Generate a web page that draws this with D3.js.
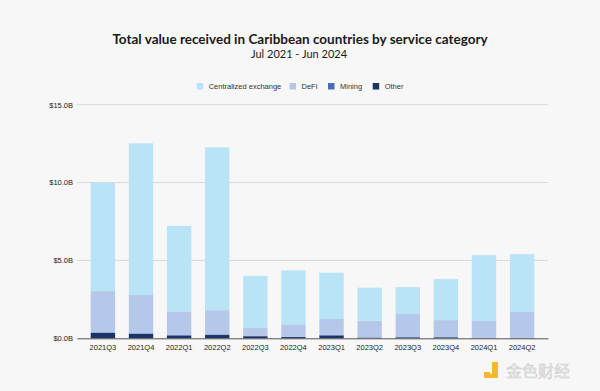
<!DOCTYPE html>
<html>
<head>
<meta charset="utf-8">
<script src="https://cdn.jsdelivr.net/npm/d3@7"></script>
<style>
  body { margin: 0; background: #f7f7f7; }
  .title { font-family: Lato, "Open Sans", sans-serif; font-weight: bold; font-size: 13.5px; fill: #1a1a1a; }
  .subtitle { font-family: Lato, "Open Sans", sans-serif; font-size: 11px; fill: #1a1a1a; }
  .legendText { font-family: "Liberation Sans", Arial, sans-serif; font-size: 7.5px; fill: #333; }
  .tick text { font-family: "Liberation Sans", Arial, sans-serif; font-size: 7.5px; fill: #222; }
</style>
</head>
<body>
<div class="chart"></div>
<script>
// Caribbean value received, stacked by service category

var quarters = ["2021Q3", "2021Q4", "2022Q1", "2022Q2", "2022Q3", "2022Q4",
    "2023Q1", "2023Q2", "2023Q3", "2023Q4", "2024Q1", "2024Q2"];

// values in billions of USD
var other = [0.34, 0.28, 0.18, 0.21, 0.13, 0.08, 0.18, 0.04, 0.06, 0.06, 0.01, 0.01];
var mining = [0.04, 0.04, 0.03, 0.04, 0.02, 0.02, 0.03, 0.02, 0.02, 0.02, 0.01, 0.01];
var defi = [2.65, 2.46, 1.52, 1.56, 0.51, 0.80, 1.03, 1.07, 1.48, 1.09, 1.09, 1.67];
var cex = [6.97, 9.74, 5.49, 10.45, 3.35, 3.46, 2.97, 2.12, 1.73, 2.63, 4.23, 3.71];

var seriesNames = ["Centralized exchange", "DeFi", "Mining", "Other"];
var seriesColors = ["#b9e4f6", "#b6c8ea", "#4a6db3", "#1b3467"];
var yTicks = [0, 5, 10, 15];

var svgWidth = 600;
var svgHeight = 391;
var margin = { top: 104.7, right: 52, bottom: 52.7, left: 77 };
var width = svgWidth - margin.left - margin.right;
var height = svgHeight - margin.top - margin.bottom;

var svg = d3.select(".chart")
    .append("svg")
    .attr("width", svgWidth)
    .attr("height", svgHeight)
    .style("background", "#f7f7f7");

svg.append("text")
    .attr("class", "title")
    .attr("x", 300)
    .attr("y", 43.5)
    .attr("text-anchor", "middle")
    .text("Total value received in Caribbean countries by service category");

svg.append("text")
    .attr("class", "subtitle")
    .attr("x", 299)
    .attr("y", 58)
    .attr("text-anchor", "middle")
    .text("Jul 2021 - Jun 2024");

// legend
var legendX = [196.7, 289.5, 328, 372.7];
var legend = svg.append("g");
seriesNames.forEach(function(name, i) {
    legend.append("rect")
        .attr("x", legendX[i])
        .attr("y", 83)
        .attr("width", 6.5)
        .attr("height", 6.5)
        .attr("fill", seriesColors[i]);
    legend.append("text")
        .attr("class", "legendText")
        .attr("x", legendX[i] + 12)
        .attr("y", 89)
        .text(name);
});

var chart = svg.append("g")
    .attr("transform", "translate(" + margin.left + "," + margin.top + ")");

var data = quarters.map(function(q, i) {
    return { quarter: q, "Other": other[i], "Mining": mining[i], "DeFi": defi[i], "Centralized exchange": cex[i] };
});

var xBandScale = d3.scaleBand()
    .domain(quarters)
    .range([0, width])
    .paddingInner(0.36)
    .paddingOuter(0.36);

var yLinearScale = d3.scaleLinear()
    .domain([0, 15])
    .range([height, 0]);

// gridlines
chart.append("g")
    .selectAll("line")
    .data(yTicks.slice(1))
    .enter()
    .append("line")
    .attr("x1", 0)
    .attr("x2", width)
    .attr("y1", function(d) { return yLinearScale(d); })
    .attr("y2", function(d) { return yLinearScale(d); })
    .attr("stroke", "#d9d9d9")
    .attr("stroke-width", 1);

var stack = d3.stack().keys(["Other", "Mining", "DeFi", "Centralized exchange"]);
var colorFor = { "Other": seriesColors[3], "Mining": seriesColors[2], "DeFi": seriesColors[1], "Centralized exchange": seriesColors[0] };

chart.selectAll(".layer")
    .data(stack(data))
    .enter()
    .append("g")
    .attr("class", "layer")
    .attr("fill", function(d) { return colorFor[d.key]; })
    .selectAll("rect")
    .data(function(d) { return d; })
    .enter()
    .append("rect")
    .attr("x", function(d) { return xBandScale(d.data.quarter); })
    .attr("y", function(d) { return yLinearScale(d[1]); })
    .attr("width", xBandScale.bandwidth())
    .attr("height", function(d) { return yLinearScale(d[0]) - yLinearScale(d[1]); });

// axes
var leftAxis = d3.axisLeft(yLinearScale)
    .tickValues(yTicks)
    .tickSize(0)
    .tickPadding(4)
    .tickFormat(function(d) { return "$" + d.toFixed(1) + "B"; });

chart.append("g")
    .call(leftAxis)
    .call(function(g) { g.select(".domain").remove(); });

var bottomAxis = d3.axisBottom(xBandScale)
    .tickSize(0)
    .tickPadding(6);

chart.append("g")
    .attr("transform", "translate(0," + height + ")")
    .call(bottomAxis)
    .call(function(g) { g.select(".domain").attr("stroke", "#555").attr("stroke-width", 1); });

// watermark
var mark = svg.append("g").attr("transform", "translate(484,362)");
mark.append("rect").attr("x", 0).attr("y", 10).attr("width", 6).attr("height", 6).attr("fill", "#f5b82e");
mark.append("path").attr("d", "M8,0 H14 V16 H3 V12 H8 Z").attr("fill", "#f5b82e");
mark.append("text")
    .attr("x", 22)
    .attr("y", 15)
    .attr("font-family", "Noto Sans CJK SC")
    .attr("font-size", 16)
    .attr("fill", "#e4e4e4")
    .attr("stroke", "#c9c9c9")
    .attr("stroke-width", 0.4)
    .text("金色财经");
</script>
</body>
</html>
